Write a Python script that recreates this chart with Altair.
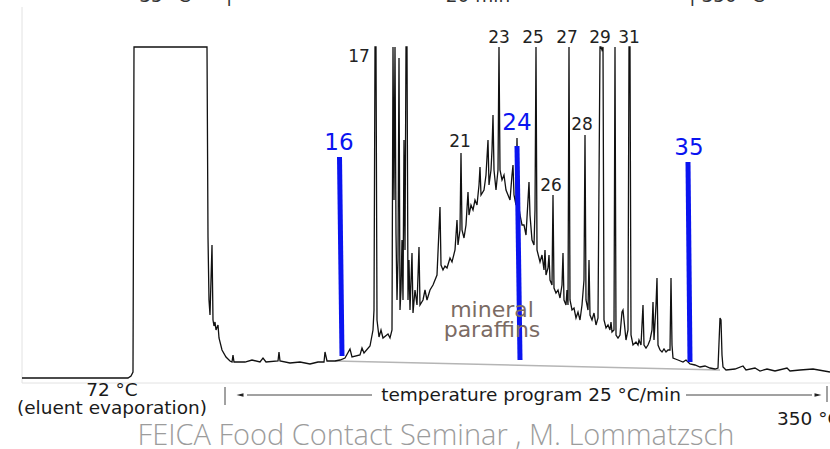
import altair as alt
import pandas as pd

# ---- chromatogram trace (retention position, detector signal) ----
trace_rt = [22, 60, 128, 131, 133, 134, 207, 208, 209, 210, 212, 213, 214, 215, 216, 218, 219, 222, 226, 230,
            232, 233, 234, 245, 252, 260, 263, 266, 278, 279, 280, 290, 300, 310, 318, 324, 325, 327, 335, 340,
            345, 350, 352, 360, 362, 364, 370, 373, 374, 375, 376, 377, 379, 381, 383, 388, 390, 392, 393, 394,
            395, 396, 397, 398, 399, 400, 401, 402, 403, 404, 405, 406, 407, 408, 409, 410, 412, 413, 415, 417,
            419, 420, 423, 425, 427, 430, 433, 437, 440, 441, 443, 445, 447, 450, 452, 455, 457, 458, 460, 461,
            462, 464, 466, 468, 469, 471, 473, 475, 477, 479, 480, 481, 484, 486, 488, 489, 491, 492, 493, 494,
            496, 498, 499, 500, 502, 504, 506, 508, 510, 512, 513, 514, 516, 517, 518, 520, 522, 524, 526, 528,
            529, 530, 532, 534, 535, 536, 537, 540, 542, 544, 545, 546, 548, 549, 550, 552, 553, 554, 556, 558,
            560, 562, 563, 564, 566, 567, 568, 569, 570, 572, 574, 576, 578, 580, 582, 584, 585, 586, 588, 589,
            590, 592, 594, 596, 598, 600, 601, 602, 603, 604, 606, 608, 610, 611, 612, 614, 615, 616, 618, 620,
            622, 623, 624, 626, 628, 629, 630, 631, 633, 636, 638, 639, 641, 643, 644, 646, 648, 650, 652, 653,
            654, 656, 657, 658, 660, 662, 664, 666, 668, 670, 671, 672, 673, 678, 683, 686, 690, 695, 700, 705,
            710, 715, 718, 720, 721, 722, 723, 726, 735, 743, 746, 755, 760, 767, 775, 787, 790, 800, 813, 830]
trace_signal = [2, 2, 2, 4, 8, 333, 333, 143, 80, 65, 135, 60, 54, 58, 50, 55, 42, 30, 23, 19,
                18, 25, 18, 18, 20, 18, 22, 18, 19, 28, 19, 17, 18, 16, 18, 18, 28, 19, 19, 20,
                22, 31, 23, 25, 32, 27, 34, 50, 70, 333, 333, 60, 43, 50, 42, 46, 42, 50, 333, 180,
                333, 147, 80, 120, 322, 70, 90, 140, 80, 240, 130, 333, 333, 80, 120, 70, 127, 67, 90, 75,
                133, 75, 80, 90, 80, 90, 95, 105, 173, 115, 110, 114, 112, 122, 118, 130, 160, 135, 150, 227,
                150, 142, 155, 188, 165, 175, 170, 180, 175, 195, 213, 185, 190, 205, 240, 195, 210, 230, 265, 210,
                190, 210, 333, 210, 200, 205, 190, 185, 180, 205, 215, 185, 175, 242, 180, 165, 155, 155, 145, 180,
                198, 165, 140, 135, 170, 333, 130, 118, 125, 110, 130, 105, 112, 125, 100, 95, 185, 92, 87, 90,
                82, 95, 127, 80, 75, 90, 75, 333, 80, 70, 72, 62, 68, 60, 75, 100, 245, 80, 70, 120,
                65, 60, 67, 55, 62, 333, 333, 330, 333, 60, 52, 55, 50, 58, 48, 50, 333, 45, 42, 45,
                68, 70, 60, 40, 50, 333, 333, 45, 35, 38, 35, 40, 35, 75, 35, 32, 35, 40, 50, 78,
                40, 75, 102, 35, 30, 28, 31, 28, 30, 30, 102, 35, 22, 20, 18, 20, 16, 15, 13, 14,
                12, 11, 12, 62, 60, 25, 13, 10, 11, 14, 10, 12, 9, 11, 9, 12, 9, 10, 11, 8]

# straight baseline under the mineral-oil hump
hump_base_rt = [335, 720]
hump_base_signal = [19, 10]

# blue n-alkane markers
marker_names = ["16", "24", "35"]
marker_rt_top = [339.5, 517, 688]
marker_rt_bottom = [342, 520, 690]
marker_signal_top = [223, 234, 218]
marker_signal_bottom = [24, 20, 18]
marker_label_rt = [339, 517, 689]
marker_label_signal = [230, 250, 225]

# black peak labels
peak_names = ["17", "21", "23", "25", "26", "27", "28", "29", "31"]
peak_label_rt = [359, 460, 499, 533, 551, 567, 582, 600, 629]
peak_label_signal = [318, 233, 337, 337, 189, 337, 250, 337, 337]

# texts
top_texts = ["35 °C", "|", "20 min", "| 350 °C"]
top_text_rt = [165, 229, 478, 727]
bottom_texts = ["72 °C", "(eluent evaporation)", "temperature program 25 °C/min"]
bottom_text_rt = [112, 112, 531]
bottom_text_signal = [-16, -34, -21]

xs = alt.Scale(domain=[0, 830], nice=False, zero=False)
ys = alt.Scale(domain=[-69, 380], nice=False, zero=False)


def X(f="rt"):
    return alt.X(f, type="quantitative", scale=xs, axis=None)


def Y(f="signal"):
    return alt.Y(f, type="quantitative", scale=ys, axis=None)


trace_df = pd.DataFrame({"rt": trace_rt, "signal": trace_signal, "order": range(len(trace_rt))})
base_df = pd.DataFrame({"rt": hump_base_rt, "signal": hump_base_signal})
marker_df = pd.DataFrame({
    "name": marker_names, "rt": marker_rt_top, "rt2": marker_rt_bottom,
    "signal": marker_signal_top, "signal2": marker_signal_bottom,
    "lrt": marker_label_rt, "lsig": marker_label_signal,
})
peak_df = pd.DataFrame({"name": peak_names, "rt": peak_label_rt, "signal": peak_label_signal})
top_df = pd.DataFrame({"name": top_texts, "rt": top_text_rt, "signal": [378] * 4})
bottom_df = pd.DataFrame({"name": bottom_texts, "rt": bottom_text_rt, "signal": bottom_text_signal})

frame_df = pd.DataFrame({"rt": [22, 22], "signal": [373, -3], "rt2": [22, 830], "signal2": [-3, -3]})

frame = alt.Chart(frame_df).mark_rule(color="#e2e2e2", strokeWidth=1).encode(
    x=X(), y=Y(), x2="rt2", y2="signal2")

hump_base = alt.Chart(base_df).mark_line(color="#b5b5b5", strokeWidth=1.5).encode(x=X(), y=Y())

trace = alt.Chart(trace_df).mark_line(color="#111111", strokeWidth=1.3, strokeJoin="miter").encode(
    x=X(), y=Y(), order="order:Q")

markers = alt.Chart(marker_df).mark_rule(color="#0a14f0", strokeWidth=5, strokeCap="butt").encode(
    x=X(), y=Y(), x2="rt2", y2="signal2")

marker_labels = alt.Chart(marker_df).mark_text(
    color="#0a14f0", font="DejaVu Sans", fontSize=23, baseline="alphabetic", align="center").encode(
    x=X("lrt"), y=Y("lsig"), text="name:N")

peak_labels = alt.Chart(peak_df).mark_text(
    color="#222222", font="DejaVu Sans", fontSize=17, baseline="alphabetic", align="center").encode(
    x=X(), y=Y(), text="name:N")

paraffin_df = pd.DataFrame({"name": ["mineral", "paraffins"], "rt": [492, 492], "signal": [63, 43]})
paraffin = alt.Chart(paraffin_df).mark_text(
    color="#7b6b64", font="DejaVu Sans", fontSize=22, baseline="alphabetic", align="center").encode(
    x=X(), y=Y(), text="name:N")

top_labels = alt.Chart(top_df).mark_text(
    color="#333333", font="DejaVu Sans", fontSize=18.5, baseline="alphabetic", align="center").encode(
    x=X(), y=Y(), text="name:N")

bottom_labels = alt.Chart(bottom_df).mark_text(
    color="#1a1a1a", font="DejaVu Sans", fontSize=18.5, baseline="alphabetic", align="center").encode(
    x=X(), y=Y(), text="name:N")

end_temp = alt.Chart(pd.DataFrame({"name": ["350 °C"], "rt": [777], "signal": [-45]})).mark_text(
    color="#1a1a1a", font="DejaVu Sans", fontSize=18.5, baseline="alphabetic", align="left").encode(
    x=X(), y=Y(), text="name:N")

# arrows of the temperature programme
arrow_df = pd.DataFrame({
    "rt": [247, 686, 225, 827], "rt2": [372, 812, 225, 827],
    "signal": [-15, -15, -7, -6], "signal2": [-15, -15, -25, -22],
})
arrows = alt.Chart(arrow_df).mark_rule(color="#444444", strokeWidth=1).encode(
    x=X(), y=Y(), x2="rt2", y2="signal2")
head_l = alt.Chart(pd.DataFrame({"rt": [240], "signal": [-15]})).mark_point(
    shape="M-1,0L1,-0.5L1,0.5Z", filled=True, color="#222222", size=49, opacity=1).encode(x=X(), y=Y())
head_r = alt.Chart(pd.DataFrame({"rt": [818], "signal": [-15]})).mark_point(
    shape="M1,0L-1,-0.5L-1,0.5Z", filled=True, color="#222222", size=49, opacity=1).encode(x=X(), y=Y())

footer = alt.Chart(pd.DataFrame({"name": ["FEICA Food Contact Seminar , M. Lommatzsch"],
                                 "rt": [436], "signal": [-65]})).mark_text(
    color="#9c9c9c", font="Open Sans", fontWeight=300, fontSize=29, baseline="alphabetic",
    align="center").encode(x=X(), y=Y(), text="name:N")

chart = alt.layer(
    frame, hump_base, trace, markers, marker_labels, peak_labels, paraffin,
    top_labels, bottom_labels, end_temp, arrows, head_l, head_r, footer,
).properties(
    width=830, height=449, padding=0, autosize="none", background="white",
).configure_view(stroke=None)

chart.save("out.html", embed_options={"renderer": "svg", "actions": False})
